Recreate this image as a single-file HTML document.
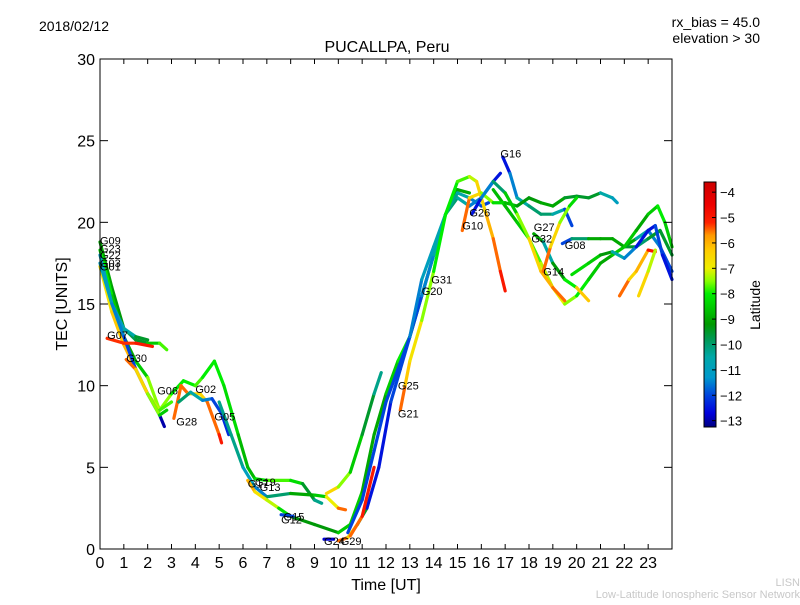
<!DOCTYPE html>
<html><head><meta charset="utf-8"><style>
body{margin:0;background:#fff;font-family:"Liberation Sans","DejaVu Sans",sans-serif}
</style></head><body>
<svg id="chart" width="800" height="600" xmlns="http://www.w3.org/2000/svg" font-family="Liberation Sans, DejaVu Sans, sans-serif">
<defs><linearGradient id="cmap" x1="0" y1="1" x2="0" y2="0"></linearGradient></defs>
<text x="39" y="31" font-size="14">2018/02/12</text>
<text x="760" y="27" font-size="14" text-anchor="end">rx_bias = 45.0</text>
<text x="760" y="43" font-size="14" text-anchor="end">elevation &gt; 30</text>
<text x="387" y="52" font-size="16" text-anchor="middle">PUCALLPA, Peru</text>
<g id="marks"></g>
<g id="labels"></g>
<rect x="100" y="59" width="572" height="490" fill="none" stroke="#000" stroke-width="1"/>
<g id="axes"></g>
<text x="386" y="590" font-size="16" text-anchor="middle">Time [UT]</text>
<text x="67" y="304" font-size="16" text-anchor="middle" transform="rotate(-90 67 304)">TEC [UNITS]</text>
<rect x="704" y="182" width="12" height="245" fill="url(#cmap)" stroke="#000" stroke-width="1"/>
<g id="cbticks"></g>
<text x="760" y="305" font-size="14" text-anchor="middle" transform="rotate(-90 760 305)">Latitude</text>
<text x="800" y="586" font-size="11" fill="#c8c8c8" text-anchor="end">LISN</text>
<text x="800" y="598" font-size="11" fill="#c8c8c8" text-anchor="end">Low-Latitude Ionospheric Sensor Network</text>
</svg>
<script>
const xTicks=[0,1,2,3,4,5,6,7,8,9,10,11,12,13,14,15,16,17,18,19,20,21,22,23];
const yTicks=[0,5,10,15,20,25,30];
const cbTicks=[-4,-5,-6,-7,-8,-9,-10,-11,-12,-13];
// tracks: [time, tec, latitude]
const trkA=[[0,18.8,-9],[0.5,16,-9],[1,13.5,-9.5],[1.5,12.8,-10],[2,12.6,-9],[2.5,12.6,-8],[2.8,12.2,-7.5]];
const trkB=[[0,18.3,-8],[0.5,15.5,-8],[1,13,-9],[1.5,11.5,-9],[2,10.5,-8],[2.5,8.5,-7],[3,9.5,-8],[3.5,10.3,-8],[4,10,-8],[4.3,10.5,-7.5]];
const trkC=[[0,18,-11],[0.5,15,-11],[1,13.5,-11],[1.5,13,-10],[2,12.8,-9]];
const trkD=[[0,17.3,-7],[0.5,14.5,-6.5],[1,12.5,-6],[1.5,11,-6],[2,9.5,-7],[2.5,8.5,-7.5],[3,9,-8]];
const trkE=[[0,17.5,-11],[0.5,15,-11],[1,13,-12],[1.5,11,-12],[2,9.5,-12],[2.5,8.2,-13],[2.7,7.5,-13]];
const trkF=[[0.3,12.9,-5],[1,12.6,-5.5],[1.5,12.6,-5],[2.2,12.4,-5]];
const trkG=[[1.1,11.6,-5],[1.5,11,-6],[2,9.5,-7],[2.5,8.2,-8],[2.8,8.5,-9]];
const trkH=[[3.1,8,-6],[3.4,10,-5],[3.7,9.5,-6],[4.2,9.5,-7],[4.5,9,-6],[5,7,-5],[5.1,6.5,-5]];
const trkI=[[3.3,9,-10],[3.8,9.6,-10],[4.3,9.1,-11],[4.7,9.2,-12],[5.1,8.3,-12],[5.4,7,-12.5]];
const trkJ=[[4.3,10.5,-8],[4.8,11.5,-8],[5.2,10,-8],[5.8,7,-8.5],[6.2,5,-9],[6.5,4.3,-8.5],[7,4.2,-8],[8,4.2,-7.5],[8.5,4,-9],[9,3,-10],[9.3,2.8,-10.5]];
const trkK=[[5,9,-10],[5.5,7,-10.5],[6,5,-10],[6.5,3.8,-12],[7,3.2,-11],[8,3.4,-9],[9,3.3,-9],[9.5,3.2,-8],[10,2.5,-6],[10.3,2.4,-5]];
const trkL=[[6.2,4.2,-5.5],[6.5,3.5,-6.5],[7,3,-7],[7.5,2.5,-7.5],[8,2,-9],[9,1.5,-9.5],[10,1,-9],[10.5,1.5,-8],[11,3.5,-9],[11.5,7,-9],[12,9.5,-9],[12.5,11.5,-8],[13,13,-8],[13.5,15.5,-9],[14,18,-9],[14.5,20.5,-9],[15,22,-9],[15.5,21.8,-9]];
const trkM=[[7.6,2.1,-12.5],[8.1,2,-11.5]];
const trkN=[[9.4,0.6,-13],[9.8,0.6,-12.5]];
const trkO=[[10,0.5,-5],[10.4,0.7,-6],[10.8,1.5,-7],[11.2,2.5,-12],[11.7,5,-13],[12.2,9,-12],[12.6,11,-12],[13,13,-12],[13.5,15.5,-12],[14,18,-11],[14.5,20.5,-10],[15,21.5,-10],[15.5,21,-11],[16,21.5,-12],[16.5,22.5,-12],[16.8,23,-13]];
const trkP=[[9.5,3.4,-6],[10,3.8,-7],[10.5,4.7,-8],[11,7,-9],[11.5,9.5,-10],[11.8,10.8,-10.5]];
const trkQ=[[10.4,1,-12],[11,3,-12],[11.5,6,-12],[12,9,-12],[12.5,11,-12],[13,13,-12],[13.5,16.5,-11],[14,18.5,-11],[14.5,20.5,-10.5],[15,21.8,-10],[15.5,21.5,-11],[16,21,-12],[16.3,21.2,-12]];
const trkR=[[10.5,0.8,-6],[11,2,-5],[11.5,5,-5]];
const trkS=[[12.6,8.5,-5],[12.8,10,-6],[13,11.5,-6.5],[13.5,14,-7],[14,17,-8],[14.5,20.5,-8],[15,22.5,-8],[15.5,22.8,-7.5],[15.8,22.5,-7],[16.2,20.5,-6],[16.5,19,-6],[16.8,17,-5],[17,15.8,-5]];
const trkT=[[16.9,24,-13],[17.2,23,-12],[17.5,21.5,-11],[18,21,-10],[18.5,20.5,-10],[19,20.5,-10],[19.5,20.8,-11],[19.8,19.8,-13]];
const trkU=[[16.5,22,-9],[17,21,-8.5],[17.5,20,-9],[18,19,-8],[18.5,17.5,-7.5],[19,16,-7],[19.5,15,-7],[20,15.5,-8],[20.5,16.5,-8],[21,17.5,-9],[21.5,18,-9],[22,18.5,-8],[22.5,19,-10],[23,19.5,-11],[23.5,18.5,-12],[24,17,-12]];
const trkV=[[15.2,19.5,-5],[15.5,21.5,-6],[16,21.8,-7],[16.5,21.2,-8],[17,21.2,-8.5],[17.5,21,-9],[18,21.5,-9.5],[18.5,21.2,-9],[19,21,-9],[19.5,21.5,-9],[20,21.6,-10],[20.5,21.5,-9],[21,21.8,-10],[21.5,21.5,-11],[21.7,21.2,-11]];
const trkW=[[15.6,20.5,-13],[16,21.5,-12],[16.5,22.5,-11],[17,21.8,-9],[17.5,20.5,-8],[18,19,-7],[18.5,17,-6],[19,16,-6],[19.5,15.2,-5]];
const trkX=[[18.2,19.3,-7],[18.6,18.8,-11],[19,17.5,-10],[19.5,16.5,-8.5],[20,16,-7.5],[20.5,15.2,-5]];
const trkY=[[18.6,17,-5],[18.9,18.5,-6],[19.3,20,-7],[19.7,21,-8],[20,21.5,-8.5]];
const trkZ=[[19.4,18.7,-13],[19.8,19,-11],[20.5,19,-9],[21,19,-9],[21.5,19,-9],[22,18.5,-9],[22.5,18.5,-10],[23,19,-10],[23.5,19.5,-9],[24,18,-10]];
const trk2=[[19.8,16.8,-8],[20.5,17.5,-8.5],[21,18,-8.5],[21.5,18.2,-10],[22,17.8,-11],[22.5,18.5,-12],[23,19.5,-13],[23.3,19.8,-12],[23.6,18,-12],[24,16.5,-13]];
const trk3=[[21.8,15.5,-5],[22.2,16.5,-6],[22.5,17,-7],[23,18.3,-5],[23.3,18.2,-5]];
const trk4=[[22.6,15.5,-6],[23,17,-7],[23.3,18.3,-7.5]];
const trk5=[[22,18.5,-8],[22.5,19.5,-9],[23,20.5,-9],[23.4,21,-8],[23.7,20,-8],[24,18.5,-9]];
const tracks=[trkA,trkB,trkC,trkD,trkE,trkF,trkG,trkH,trkI,trkJ,trkK,trkL,trkM,trkN,trkO,trkP,trkQ,trkR,trkS,trkT,trkU,trkV,trkW,trkX,trkY,trkZ,trk2,trk3,trk4,trk5];
const labelNames=["G09","G23","G22","G03","G01","G07","G30","G06","G02","G28","G05","G17","G19","G13","G15","G12","G24","G29","G25","G21","G20","G31","G10","G26","G16","G27","G32","G08","G14"];
const labelT=[0,0,0,0,0,0.3,1.1,2.4,4.0,3.2,4.8,6.2,6.5,6.7,7.7,7.6,9.4,10.1,12.5,12.5,13.5,13.9,15.2,15.5,16.8,18.2,18.1,19.5,18.6];
const labelV=[18.9,18.4,18.0,17.5,17.3,13.1,11.7,9.7,9.8,7.8,8.1,4.0,4.1,3.8,2.0,1.8,0.5,0.5,10.0,8.3,15.8,16.5,19.8,20.6,24.2,19.7,19.0,18.6,17.0];
const NS="http://www.w3.org/2000/svg";
const X=t=>100+t*572/24, Y=v=>549-v*490/30;
const vmin=-13.25,vmax=-3.6;
const cstops=[[-13.25,[0,0,128]],[-12.7,[0,0,221]],[-12,[0,68,221]],[-11.3,[0,153,204]],[-10.5,[0,168,168]],[-9.8,[0,153,85]],[-9.2,[0,153,0]],[-8.5,[0,204,0]],[-8,[0,238,0]],[-7.5,[136,255,0]],[-7,[238,238,0]],[-6.3,[255,204,0]],[-5.7,[255,153,0]],[-5.2,[255,34,0]],[-4.5,[238,0,0]],[-3.6,[204,0,0]]];
function cmap(lat){lat=Math.max(vmin,Math.min(vmax,lat));
 for(let i=0;i<cstops.length-1;i++){const a=cstops[i],b=cstops[i+1];
  if(lat<=b[0]){const f=(lat-a[0])/(b[0]-a[0]);const c=a[1].map((v,k)=>Math.round(v+(b[1][k]-v)*f));return `rgb(${c[0]},${c[1]},${c[2]})`;}}
 return 'rgb(204,0,0)';}
const grad=document.getElementById('cmap');
cstops.forEach(s=>{const st=document.createElementNS(NS,'stop');st.setAttribute('offset',(s[0]-vmin)/(vmax-vmin));st.setAttribute('stop-color',`rgb(${s[1].join(',')})`);grad.appendChild(st);});
const marks=document.getElementById('marks');
tracks.forEach(tr=>{for(let i=0;i<tr.length-1;i++){const a=tr[i],b=tr[i+1];
 const l=document.createElementNS(NS,'line');
 
 
 l.setAttribute('x1',X(a[0]));l.setAttribute('y1',Y(a[1]));l.setAttribute('x2',X(b[0]));l.setAttribute('y2',Y(b[1]));
 l.setAttribute('stroke',cmap((a[2]+b[2])/2));l.setAttribute('stroke-width','3.2');l.setAttribute('stroke-linecap','round');
 marks.appendChild(l);}});
const lg=document.getElementById('labels');
labelNames.forEach((n,i)=>{const t=document.createElementNS(NS,'text');
 
 
 t.setAttribute('x',X(labelT[i]));t.setAttribute('y',Y(labelV[i])+4);t.setAttribute('font-size','11');t.textContent=n;lg.appendChild(t);});
const ax=document.getElementById('axes');
function add(tag,attrs,txt){const e=document.createElementNS(NS,tag);for(const k in attrs)e.setAttribute(k,attrs[k]);if(txt!==undefined)e.textContent=txt;ax.appendChild(e);return e;}
xTicks.forEach(t=>{const x=X(t);
 const a=add('line',{x1:x,x2:x,y1:549,y2:544,stroke:'#000'});
 const b=add('line',{x1:x,x2:x,y1:59,y2:64,stroke:'#000'});
 const s=add('text',{x:x,y:568,'font-size':'16','text-anchor':'middle'},String(t));});
yTicks.forEach(v=>{const y=Y(v);
 const a=add('line',{x1:100,x2:108,y1:y,y2:y,stroke:'#000'});
 const b=add('line',{x1:664,x2:672,y1:y,y2:y,stroke:'#000'});
 const s=add('text',{x:95,y:y+6,'font-size':'16','text-anchor':'end'},String(v));});
const cb=document.getElementById('cbticks');
cbTicks.forEach(v=>{const y=182+(vmax-v)/(vmax-vmin)*245;
 const l=document.createElementNS(NS,'line');
 
 
 l.setAttribute('x1',712);l.setAttribute('x2',716);l.setAttribute('y1',y);l.setAttribute('y2',y);l.setAttribute('stroke','#000');cb.appendChild(l);
 const t=document.createElementNS(NS,'text');
 
 
 t.setAttribute('x',720);t.setAttribute('y',y+5);t.setAttribute('font-size','13');t.textContent=String(v).replace('-','\u2212');cb.appendChild(t);});
</script>
</body></html>
